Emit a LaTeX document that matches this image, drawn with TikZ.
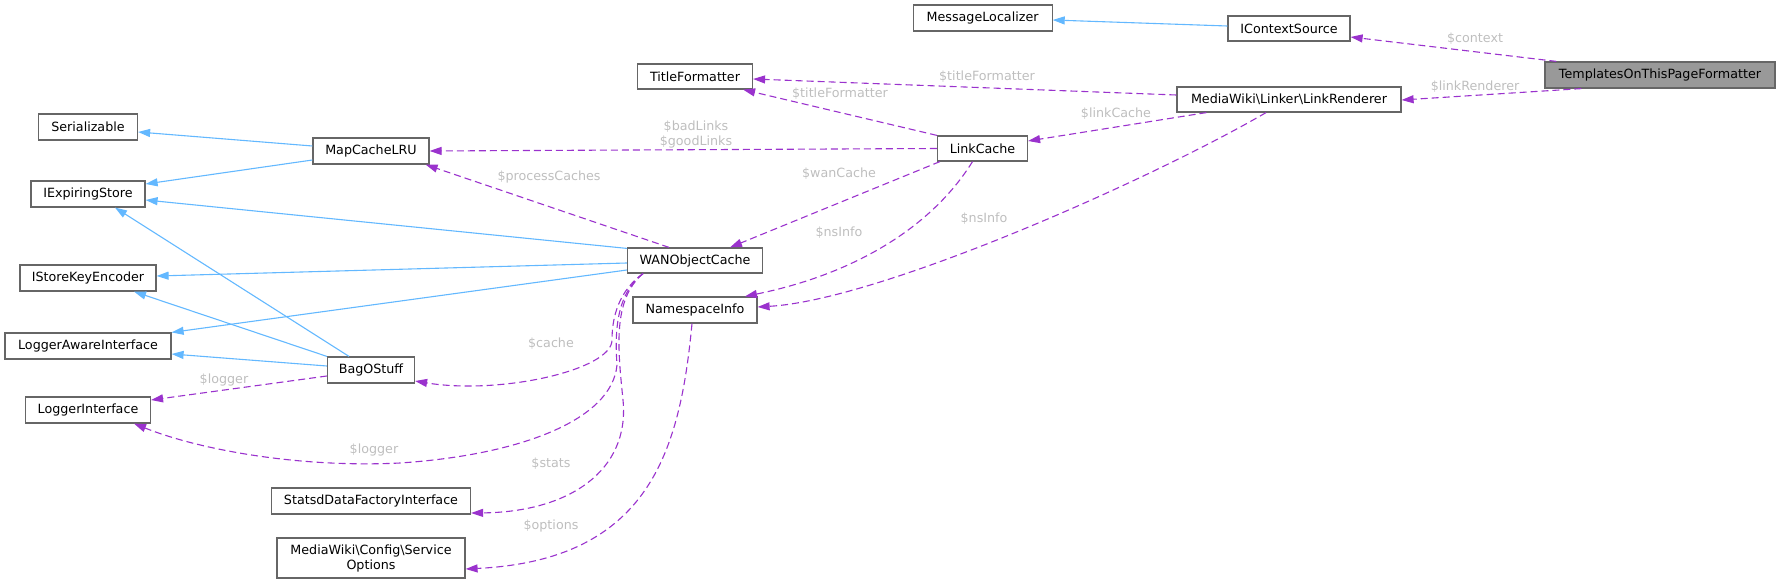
\documentclass[tikz,border=0pt]{standalone}
\usepackage{fontspec}
\setmainfont{DejaVu Sans}
\usetikzlibrary{arrows.meta}
\definecolor{edgeblue}{HTML}{63B8FF}
\definecolor{edgepurple}{HTML}{9A32CD}
\definecolor{boxborder}{HTML}{666666}
\definecolor{rootfill}{HTML}{999999}
\definecolor{lblgray}{HTML}{BEBEBE}
\begin{document}
\begin{tikzpicture}[x=1pt,y=-1pt,
  cls/.style={draw=boxborder, line width=1.2pt, fill=white, minimum height=26pt, inner sep=0pt, font=\fontsize{12.7}{15}\selectfont, text=black},
  inh/.style={draw=edgeblue, line width=1.1pt, -{Triangle[length=12pt,width=8pt]}, color=edgeblue},
  use/.style={draw=edgepurple, line width=1.1pt, dash pattern=on 7pt off 4pt, -{Triangle[length=12pt,width=8pt]}, color=edgepurple},
  lbl/.style={text=lblgray, font=\fontsize{12.7}{15}\selectfont, inner sep=0pt, align=center}]
\useasboundingbox (0,0) rectangle (1780,583);

% nodes
\node[cls, minimum width=230pt, fill=rootfill] (totpf) at (1660,75) {TemplatesOnThisPageFormatter};
\node[cls, minimum width=122pt, minimum height=25pt] (ics) at (1289,28.5) {IContextSource};
\node[cls, minimum width=139pt] (ml) at (982.6,18) {MessageLocalizer};
\node[cls, minimum width=224pt, minimum height=25pt] (lr) at (1289,99.5) {MediaWiki\textbackslash Linker\textbackslash LinkRenderer};
\node[cls, minimum width=115pt, minimum height=25pt] (tf) at (695,76.5) {TitleFormatter};
\node[cls, minimum width=90pt, minimum height=25pt] (lc) at (982.5,148.5) {LinkCache};
\node[cls, minimum width=135pt, minimum height=25pt] (wan) at (695,260.5) {WANObjectCache};
\node[cls, minimum width=124pt] (ns) at (695,310) {NamespaceInfo};
\node[cls, minimum width=116pt] (mclru) at (371,151) {MapCacheLRU};
\node[cls, minimum width=87pt] (bag) at (371,370) {BagOStuff};
\node[cls, minimum width=199pt] (sd) at (371,501) {StatsdDataFactoryInterface};
\node[cls, minimum width=188pt, minimum height=40pt, align=center] (so) at (371,558) {MediaWiki\textbackslash Config\textbackslash Service\\Options};
\node[cls, minimum width=99pt] (ser) at (88,127) {Serializable};
\node[cls, minimum width=114pt] (ies) at (88,194) {IExpiringStore};
\node[cls, minimum width=136pt] (isk) at (88,278) {IStoreKeyEncoder};
\node[cls, minimum width=166pt] (lai) at (88,346) {LoggerAwareInterface};
\node[cls, minimum width=125pt] (li) at (88,410) {LoggerInterface};

% inheritance edges
\draw[inh] ([yshift=2.5pt]ics.west) -- ([yshift=-2pt]ml.east);
\draw[inh] ([yshift=5pt]mclru.west) -- ([yshift=-5pt]ser.east);
\draw[inh] ([yshift=-9pt]mclru.west) -- ([yshift=10pt]ies.east);
\draw[inh] ([yshift=-1pt]wan.north west) -- ([yshift=-6pt]ies.east);
\draw[inh] ([yshift=-2.5pt]wan.west) -- ([yshift=2pt]isk.east);
\draw[inh] ([yshift=-9.5pt]wan.west) -- (lai.north east);
\draw[inh] ([xshift=-22pt]bag.north) -- ([xshift=27pt]ies.south);
\draw[inh] (bag.north west) -- ([xshift=46pt]isk.south);
\draw[inh] ([yshift=4pt]bag.west) -- ([yshift=-8pt]lai.east);

% usage edges
\draw[use] ([xshift=12pt]totpf.north west) -- ([yshift=-8.5pt]ics.east);
\draw[use] ([xshift=37pt]totpf.south west) -- ([yshift=-0.5pt]lr.east);
\draw[use] ([yshift=4.5pt]lr.west) -- ([yshift=-2.5pt]tf.east);
\draw[use] ([xshift=30pt]lr.south west) -- ([yshift=7.5pt]lc.east);
\draw[use] ([xshift=-23pt]lr.south) .. controls (1150,180) and (880,300) .. ([yshift=3pt]ns.east);
\draw[use] (lc.north west) -- ([xshift=-10pt]tf.south east);
\draw[use] (lc.west) -- (mclru.east);
\draw[use] ([xshift=3pt]lc.south west) -- ([xshift=35pt]wan.north);
\draw[use] ([xshift=-10pt]lc.south) .. controls (930,230) and (850,275) .. ([xshift=50pt]ns.north);
\draw[use] ([xshift=-26pt]wan.north) -- ([xshift=-4pt]mclru.south east);
\draw[use] ([xshift=-52pt]wan.south) .. controls (620,290) and (612,315) .. (612,340) .. controls (612,370) and (500,395) .. ([yshift=-11pt]bag.east);
\draw[use] ([xshift=-52pt]wan.south) .. controls (615,295) and (615,335) .. (617,365) .. controls (612,420) and (520,455) .. (400,463) .. controls (300,468) and (200,450) .. ([xshift=46pt]li.south);
\draw[use] ([xshift=-52pt]wan.south) .. controls (612,300) and (618,350) .. (623,400) .. controls (630,470) and (570,512) .. ([yshift=-12pt]sd.east);
\draw[use] ([yshift=-6pt]bag.west) -- ([yshift=10pt]li.east);
\draw[use] ([xshift=-3pt]ns.south) .. controls (680,450) and (650,560) .. ([yshift=-11pt]so.east);

% labels
\node[lbl] (l1) at (1475,39) {\$context};
\node[lbl] (l2) at (1475,87) {\$linkRenderer};
\node[lbl] (l3) at (987,77) {\$titleFormatter};
\node[lbl] (l4) at (840,94) {\$titleFormatter};
\node[lbl] (l5) at (1116,114) {\$linkCache};
\node[lbl] (l6) at (696,134.5) {\$badLinks\\\$goodLinks};
\node[lbl] (l7) at (839,174) {\$wanCache};
\node[lbl] (l8) at (839,233) {\$nsInfo};
\node[lbl] (l9) at (984,219) {\$nsInfo};
\node[lbl] (l10) at (549,177) {\$processCaches};
\node[lbl] (l11) at (551,344) {\$cache};
\node[lbl] (l12) at (224,380) {\$logger};
\node[lbl] (l13) at (374,450) {\$logger};
\node[lbl] (l14) at (551,464) {\$stats};
\node[lbl] (l15) at (551,526) {\$options};
\end{tikzpicture}
\end{document}
